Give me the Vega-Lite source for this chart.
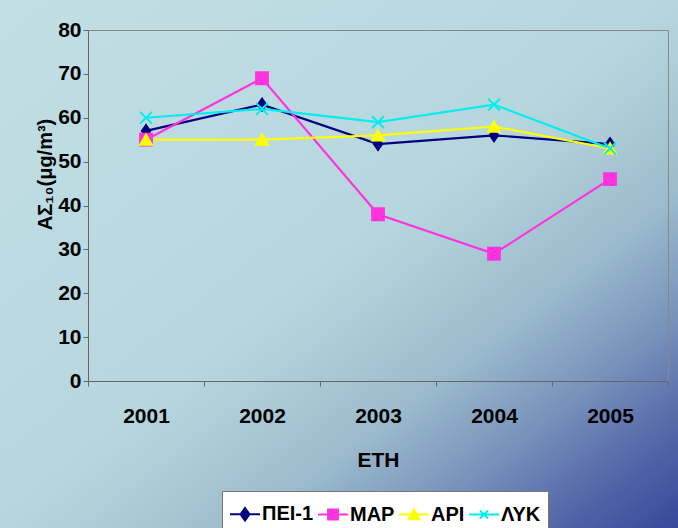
{
  "$schema": "https://vega.github.io/schema/vega-lite/v6.json",
  "width": 678,
  "height": 528,
  "autosize": "none",
  "padding": 0,
  "background": "#a9c6d4",
  "config": {
    "view": {
      "stroke": null,
      "fill": {
        "gradient": "linear",
        "x1": 0, "y1": 0, "x2": 1, "y2": 1,
        "stops": [
          {"offset": 0, "color": "#c3dfe5"},
          {"offset": 0.5, "color": "#b6d6de"},
          {"offset": 0.68, "color": "#9cbccd"},
          {"offset": 0.8, "color": "#7792bb"},
          {"offset": 0.9, "color": "#5568a8"},
          {"offset": 1, "color": "#38479b"}
        ]
      }
    },
    "font": "Liberation Sans",
    "axis": {"labelFont": "Liberation Sans", "titleFont": "Liberation Sans"},
    "legend": {"labelFont": "Liberation Sans"}
  },
  "data": {
    "values": [
      {"year": "2001", "series": "ΠΕΙ-1", "value": 57},
      {"year": "2002", "series": "ΠΕΙ-1", "value": 63},
      {"year": "2003", "series": "ΠΕΙ-1", "value": 54},
      {"year": "2004", "series": "ΠΕΙ-1", "value": 56},
      {"year": "2005", "series": "ΠΕΙ-1", "value": 54},
      {"year": "2001", "series": "ΜΑΡ", "value": 55},
      {"year": "2002", "series": "ΜΑΡ", "value": 69},
      {"year": "2003", "series": "ΜΑΡ", "value": 38},
      {"year": "2004", "series": "ΜΑΡ", "value": 29},
      {"year": "2005", "series": "ΜΑΡ", "value": 46},
      {"year": "2001", "series": "ΑΡΙ", "value": 55},
      {"year": "2002", "series": "ΑΡΙ", "value": 55},
      {"year": "2003", "series": "ΑΡΙ", "value": 56},
      {"year": "2004", "series": "ΑΡΙ", "value": 58},
      {"year": "2005", "series": "ΑΡΙ", "value": 53},
      {"year": "2001", "series": "ΛΥΚ", "value": 60},
      {"year": "2002", "series": "ΛΥΚ", "value": 62},
      {"year": "2003", "series": "ΛΥΚ", "value": 59},
      {"year": "2004", "series": "ΛΥΚ", "value": 63},
      {"year": "2005", "series": "ΛΥΚ", "value": 53}
    ]
  },
  "resolve": {"axis": {"x": "independent", "y": "independent"}},
  "layer": [
    {
      "mark": {"type": "line", "strokeWidth": 2.2},
      "encoding": {
        "x": {
          "field": "year", "type": "ordinal", "bandPosition": 0.5,
          "scale": {"type": "band", "range": [88, 668], "paddingInner": 0, "paddingOuter": 0},
          "axis": {
            "orient": "bottom", "offset": -147, "labelAngle": 0,
            "tickBand": "extent", "tickSize": 5, "tickColor": "#666", "domainColor": "#666",
            "labelFontSize": 21, "labelFontWeight": "bold", "labelColor": "#000", "labelPadding": 19,
            "title": "ΕΤΗ", "titleFontSize": 21, "titleFontWeight": "bold", "titleColor": "#000", "titlePadding": 23
          }
        },
        "y": {
          "field": "value", "type": "quantitative",
          "scale": {"domain": [0, 80], "range": [381, 30], "nice": false},
          "axis": {
            "orient": "left", "offset": -88, "values": [0, 10, 20, 30, 40, 50, 60, 70, 80],
            "grid": false, "tickSize": 5, "tickColor": "#666", "domainColor": "#666",
            "labelFontSize": 21, "labelFontWeight": "bold", "labelColor": "#000", "labelPadding": 2,
            "title": "ΑΣ₁₀(μg/m³)", "titleFontSize": 20, "titleFontWeight": "bold", "titleColor": "#000", "titlePadding": 2,
            "titleY": 174
          }
        },
        "color": {
          "field": "series", "type": "nominal",
          "scale": {"domain": ["ΠΕΙ-1", "ΜΑΡ", "ΑΡΙ", "ΛΥΚ"], "range": ["#000080", "#ff33dd", "#ffff00", "#00eeee"]},
          "legend": {
            "title": null, "orient": "none", "legendX": 222, "legendY": 491, "direction": "horizontal",
            "fillColor": "#ffffff", "strokeColor": "#777", "padding": 7, "columnPadding": 0,
            "labelFontSize": 20, "labelFontWeight": "bold", "labelColor": "#000", "labelOffset": 1,
            "symbolSize": 900, "symbolStrokeWidth": 2,
            "encode": {
              "symbols": {
                "update": {
                  "shape": {"signal": "datum.value === 'ΠΕΙ-1' ? 'M-1,0L1,0M0,-0.42L0.3,0L0,0.42L-0.3,0Z' : datum.value === 'ΜΑΡ' ? 'M-1,0L1,0M-0.33,-0.33L0.33,-0.33L0.33,0.33L-0.33,0.33Z' : datum.value === 'ΑΡΙ' ? 'M-1,0L1,0M0,-0.36L0.36,0.32L-0.36,0.32Z' : 'M-1,0L1,0M-0.27,-0.27L0.27,0.27M-0.27,0.27L0.27,-0.27'"},
                  "stroke": {"scale": "color", "field": "value"},
                  "fill": {"scale": "color", "field": "value"},
                  "strokeWidth": {"value": 2}
                }
              }
            }
          }
        }
      }
    },
    {
      "mark": {"type": "point", "filled": true, "strokeWidth": 2, "opacity": 1},
      "encoding": {
        "x": {
          "field": "year", "type": "ordinal", "bandPosition": 0.5,
          "axis": {"orient": "top", "offset": -30, "labels": false, "ticks": false, "title": null, "domainColor": "#888"}
        },
        "y": {
          "field": "value", "type": "quantitative",
          "axis": {"orient": "right", "offset": -10, "labels": false, "ticks": false, "grid": false, "title": null, "domainColor": "#888"}
        },
        "fill": {
          "field": "series", "type": "nominal",
          "scale": {"domain": ["ΠΕΙ-1", "ΜΑΡ", "ΑΡΙ", "ΛΥΚ"], "range": ["#000080", "#ff33dd", "#ffff00", "#00eeee"]},
          "legend": null
        },
        "stroke": {
          "field": "series", "type": "nominal",
          "scale": {"domain": ["ΠΕΙ-1", "ΜΑΡ", "ΑΡΙ", "ΛΥΚ"], "range": ["#000080", "#ff33dd", "#ffff00", "#00eeee"]},
          "legend": null
        },
        "shape": {
          "condition": [
            {"test": "datum.series === 'ΠΕΙ-1'", "value": "M0,-1L0.7,0L0,1L-0.7,0Z"},
            {"test": "datum.series === 'ΜΑΡ'", "value": "square"},
            {"test": "datum.series === 'ΑΡΙ'", "value": "triangle-up"}
          ],
          "value": "M-1,-1L1,1M-1,1L1,-1"
        },
        "size": {"value": 140}
      }
    }
  ]
}
